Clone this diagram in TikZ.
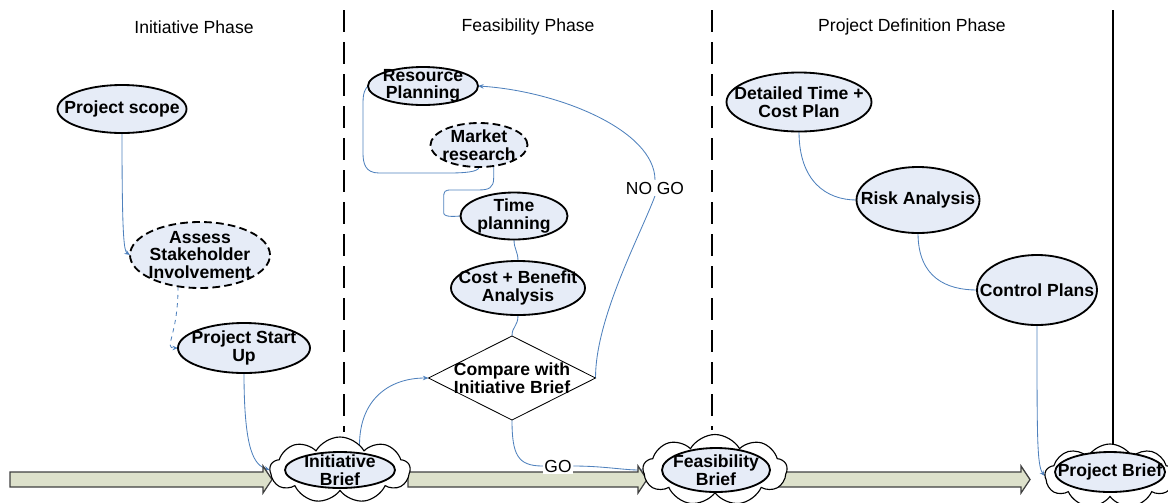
\documentclass[tikz,border=0pt]{standalone}
\usepackage{fontspec}
\setmainfont{Liberation Sans}
\usetikzlibrary{shapes.geometric,shapes.symbols,arrows.meta,calc,backgrounds}

\definecolor{taskfill}{RGB}{230,236,247}
\definecolor{linkblue}{RGB}{79,129,189}
\definecolor{arrowfill}{RGB}{221,225,203}
\definecolor{arrowline}{RGB}{64,64,64}
\newcommand{\pxu}{0.025cm}

\tikzset{
  wh/.style 2 args={minimum width=#1*\pxu, minimum height=#2*\pxu},
  task/.style={ellipse, draw, line width=1.3pt, fill=taskfill, inner sep=0pt, outer sep=0pt},
  optional/.style={task, dash pattern=on 5.5pt off 3pt},
  tasktext/.style={font=\bfseries\fontsize{12.5}{12.4}\selectfont, align=center, inner sep=0pt},
  decision/.style={diamond, draw, line width=0.6pt, fill=white, inner sep=0pt, outer sep=0pt},
  brief/.style={cloud, cloud puffs=9, cloud puff arc=120, cloud ignores aspect, draw, line width=0.8pt, fill=white, inner sep=0pt, outer sep=0pt},
  phase/.style={font=\fontsize{12.5}{14}\selectfont},
  golabel/.style={font=\fontsize{12.4}{14}\selectfont, fill=white, inner sep=1pt},
  link/.style={draw=linkblue, line width=0.6pt},
  linkarrow/.style={link, -{Stealth[length=4pt,width=3.2pt]}},
  divider/.style={line width=1pt, dash pattern=on 0.55cm off 0.25cm},
  blockarrow/.style={draw=arrowline, line width=0.9pt, fill=arrowfill},
}

\begin{document}
\begin{tikzpicture}[x=0.025cm, y=-0.025cm]
  \useasboundingbox (0,0) rectangle (1168,502);

  % phases
  \node[phase] (p1) at (194,27) {Initiative Phase};
  \node[phase] (p2) at (528,27) {Feasibility Phase};
  \node[phase] (p3) at (912,27) {Project Definition Phase};
  \draw[divider] (344,10) -- (344,432);
  \draw[divider] (712,10) -- (712,430);
  \draw[line width=1pt] (1113,10) -- (1113,445);

  % initiative phase
  \node[task, wh={129}{48}, label={[tasktext]center:Project scope}] (scope) at (122,109) {};
  \node[optional, wh={140}{66}, label={[tasktext]center:{Assess\\Stakeholder\\Involvement}}] (assess) at (200,255) {};
  \node[task, wh={132}{50}, label={[tasktext]center:{Project Start\\Up}}] (startup) at (244,348) {};

  % feasibility phase
  \node[task, wh={110}{38}, label={[tasktext]center:{Resource\\Planning}}] (resource) at (423,86) {};
  \node[optional, wh={97}{44}, label={[tasktext]center:{Market\\research}}] (market) at (479,145) {};
  \node[task, wh={107}{47}, label={[tasktext]center:{Time\\planning}}] (time) at (514,216) {};
  \node[task, wh={134}{54}, label={[tasktext]center:{Cost + Benefit\\Analysis}}] (cost) at (518,288) {};
  \node[decision, wh={167}{84}, label={[tasktext]center:{Compare with\\Initiative Brief}}] (cmp) at (512,378) {};
  \node[golabel] (nogo) at (655,188) {NO GO};
  \node[golabel] (go) at (558,466) {GO};

  % project definition phase
  \node[task, wh={145}{59}, label={[tasktext]center:{Detailed Time +\\Cost Plan}}] (detailed) at (799,102) {};
  \node[task, wh={123}{66}, label={[tasktext]center:Risk Analysis}] (risk) at (918,200) {};
  \node[task, wh={120}{70}, label={[tasktext]center:Control Plans}] (control) at (1037,290) {};

  % briefs
  \node[brief, wh={140}{66}] (ibcloud) at (340,470) {};
  \node[task, wh={110}{36}, label={[tasktext]center:{Initiative\\Brief}}] (ibrief) at (340,470) {};
  \node[brief, wh={144}{71}] (fbcloud) at (715,470) {};
  \node[task, wh={108}{44}, label={[tasktext]center:{Feasibility\\Brief}}] (fbrief) at (716,470) {};
  \node[brief, wh={130}{64}] (pbcloud) at (1110,476) {};
  \node[task, wh={110}{40}, label={[tasktext]center:Project Brief}] (pbrief) at (1110,472) {};

  \begin{scope}[on background layer]
    % connectors
    \draw[linkarrow] (scope.south) .. controls +(0,105) and +(-6,-4) .. (assess.west);
    \draw[linkarrow, dashed] (assess.235) .. controls +(0,50) and +(-15,0) .. (startup.west);
    \draw[linkarrow] (startup.south) .. controls +(0,80) and +(-15,-5) .. (ibcloud.west);

    \draw[link] (market.south) .. controls +(0,5) and +(15,0) .. ++(-30,6) -- ++(-70,0)
      .. controls +(-14,0) and +(0,10) .. ++(-16,-20) -- ++(0,-50)
      .. controls +(0,-10) and +(-3,3) .. (resource.west);
    \draw[link] (market.305) -- ++(0,12) .. controls +(0,10) and +(10,0) .. ++(-15,12) -- ++(-27,0)
      .. controls +(-7,0) and +(0,-7) .. ++(-8,8) -- ++(0,15)
      .. controls +(0,5) and +(-2,0) .. (time.west);
    \draw[link] (time.south) .. controls +(0,10) and +(0,-10) .. (cost.north);
    \draw[link] (cost.south) .. controls +(0,12) and +(0,-10) .. (cmp.north);
    \draw[linkarrow] (ibcloud.52) .. controls +(0,-45) and +(-40,0) .. (cmp.west);
    \draw[link] (cmp.east) .. controls +(0,-60) and +(-15,40) .. (nogo.south);
    \draw[linkarrow] (nogo.north) .. controls +(0,-50) and +(80,5) .. (resource.east);
    \draw[link] (cmp.south) .. controls +(0,35) and +(-25,0) .. (go.west);
    \draw[linkarrow] (go.east) .. controls +(30,0) and +(-20,0) .. (fbcloud.west);

    \draw[link] (detailed.south) .. controls +(0,50) and +(-30,0) .. (risk.west);
    \draw[link] (risk.south) .. controls +(0,45) and +(-30,0) .. (control.west);
    \draw[linkarrow] (control.south) .. controls +(0,110) and +(-8,-10) .. (pbcloud.west);

    % process arrows
    \foreach \xa/\xb in {10/272, 408/647, 778/1030}
      \draw[blockarrow] (\xa,472) -- (\xb-9,472) -- (\xb-9,466) -- (\xb,479.5)
        -- (\xb-9,493) -- (\xb-9,487) -- (\xa,487) -- cycle;
  \end{scope}
\end{tikzpicture}
\end{document}
